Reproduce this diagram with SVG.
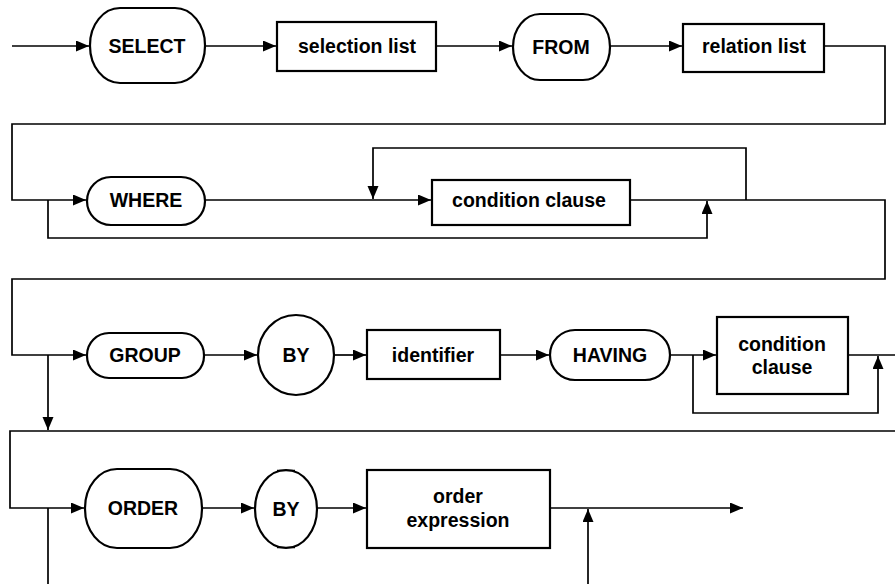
<svg xmlns="http://www.w3.org/2000/svg" width="895" height="584" viewBox="0 0 895 584">
  <style>
    .shape { fill: #fff; stroke: #000; stroke-width: 2.2; }
    .wire { fill: none; stroke: #000; stroke-width: 1.7; }
    .lbl { font-family: "Liberation Sans", Arial, sans-serif; font-size: 19.5px; font-weight: bold; fill: #000; text-anchor: middle; }
  </style>
  <defs>
    <marker id="arrow" markerUnits="userSpaceOnUse" markerWidth="14" markerHeight="12" refX="13" refY="5.5" orient="auto">
      <path d="M0,0 L13,5.5 L0,11 Z" fill="#000"/>
    </marker>
  </defs>

  <!-- connectors -->
  <g id="connectors">
    <!-- row 1 -->
    <path class="wire" d="M12,46 H89" marker-end="url(#arrow)"/>
    <path class="wire" d="M205,46 H276" marker-end="url(#arrow)"/>
    <path class="wire" d="M436,46 H512" marker-end="url(#arrow)"/>
    <path class="wire" d="M610,46 H682" marker-end="url(#arrow)"/>
    <path class="wire" d="M824,46 H885 V124 H12 V200 H86" marker-end="url(#arrow)"/>
    <!-- row 2 -->
    <path class="wire" d="M205,200 H431" marker-end="url(#arrow)"/>
    <path class="wire" d="M746,200 V148 H373 V199" marker-end="url(#arrow)"/>
    <path class="wire" d="M48,200 V238 H707 V201" marker-end="url(#arrow)"/>
    <path class="wire" d="M630,200 H885 V279 H12 V355 H86" marker-end="url(#arrow)"/>
    <!-- row 3 -->
    <path class="wire" d="M204,355 H257" marker-end="url(#arrow)"/>
    <path class="wire" d="M334,355 H366" marker-end="url(#arrow)"/>
    <path class="wire" d="M500,355 H549" marker-end="url(#arrow)"/>
    <path class="wire" d="M670,355 H716" marker-end="url(#arrow)"/>
    <path class="wire" d="M693,355 V413 H878 V356" marker-end="url(#arrow)"/>
    <path class="wire" d="M848,355 H895"/>
    <path class="wire" d="M48,355 V430" marker-end="url(#arrow)"/>
    <!-- row 4 -->
    <path class="wire" d="M895,431 H10 V508 H84" marker-end="url(#arrow)"/>
    <path class="wire" d="M202,508 H254" marker-end="url(#arrow)"/>
    <path class="wire" d="M317,508 H366" marker-end="url(#arrow)"/>
    <path class="wire" d="M550,508 H743" marker-end="url(#arrow)"/>
    <path class="wire" d="M48,508 V584"/>
    <path class="wire" d="M588,584 V509" marker-end="url(#arrow)"/>
  </g>

  <!-- row 1 nodes -->
  <g id="select">
    <rect class="shape" x="90" y="8" width="115" height="75" rx="30" ry="37"/>
    <text class="lbl" x="147" y="53">SELECT</text>
  </g>
  <g id="selection-list">
    <rect class="shape" x="277" y="22" width="159" height="49"/>
    <text class="lbl" x="357" y="53">selection list</text>
  </g>
  <g id="from">
    <rect class="shape" x="513" y="14" width="97" height="66" rx="27" ry="33"/>
    <text class="lbl" x="561" y="54">FROM</text>
  </g>
  <g id="relation-list">
    <rect class="shape" x="683" y="24" width="141" height="48"/>
    <text class="lbl" x="754" y="53">relation list</text>
  </g>

  <!-- row 2 nodes -->
  <g id="where">
    <rect class="shape" x="87" y="177" width="118" height="48" rx="24" ry="24"/>
    <text class="lbl" x="146" y="207">WHERE</text>
  </g>
  <g id="condition-clause">
    <rect class="shape" x="432" y="180" width="198" height="45"/>
    <text class="lbl" x="529" y="207">condition clause</text>
  </g>

  <!-- row 3 nodes -->
  <g id="group">
    <rect class="shape" x="87" y="333" width="117" height="45" rx="22" ry="22"/>
    <text class="lbl" x="145" y="362">GROUP</text>
  </g>
  <g id="group-by">
    <ellipse class="shape" cx="296" cy="355" rx="38" ry="40"/>
    <text class="lbl" x="296" y="362">BY</text>
  </g>
  <g id="identifier">
    <rect class="shape" x="367" y="330" width="133" height="49"/>
    <text class="lbl" x="433" y="362">identifier</text>
  </g>
  <g id="having">
    <rect class="shape" x="550" y="330" width="120" height="50" rx="25" ry="25"/>
    <text class="lbl" x="610" y="362">HAVING</text>
  </g>
  <g id="having-condition">
    <rect class="shape" x="717" y="317" width="131" height="77"/>
    <text class="lbl" x="782" y="351">condition</text>
    <text class="lbl" x="782" y="374">clause</text>
  </g>

  <!-- row 4 nodes -->
  <g id="order">
    <rect class="shape" x="85" y="469" width="117" height="79" rx="32" ry="39"/>
    <text class="lbl" x="143" y="515">ORDER</text>
  </g>
  <g id="order-by">
    <ellipse class="shape" cx="286" cy="509" rx="31" ry="39"/>
    <path class="wire" d="M277,470.5 H295 M277,547.5 H295" stroke-width="3"/>
    <text class="lbl" x="286" y="516">BY</text>
  </g>
  <g id="order-expression">
    <rect class="shape" x="367" y="470" width="183" height="78"/>
    <text class="lbl" x="458" y="503">order</text>
    <text class="lbl" x="458" y="527">expression</text>
  </g>
</svg>
